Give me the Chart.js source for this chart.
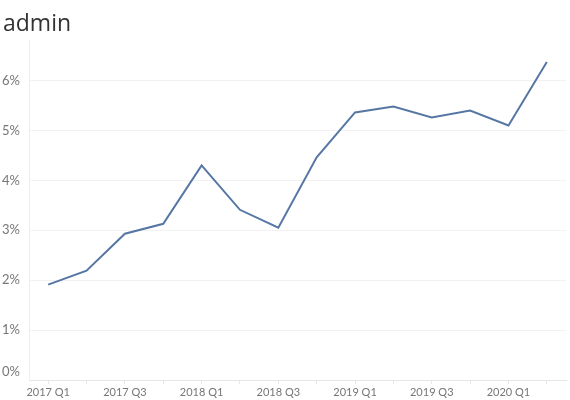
<!DOCTYPE html>
<html>
<head>
<meta charset="utf-8">
<script src="https://cdn.jsdelivr.net/npm/chart.js@4"></script>
<style>
html, body { margin: 0; padding: 0; background: #fff; }
#wrap { width: 570px; height: 400px; position: relative; }
</style>
</head>
<body>
<div id="wrap"><canvas id="chart"></canvas></div>
<script>
const quarters = ["2017 Q1", "2017 Q2", "2017 Q3", "2017 Q4",
                  "2018 Q1", "2018 Q2", "2018 Q3", "2018 Q4",
                  "2019 Q1", "2019 Q2", "2019 Q3", "2019 Q4",
                  "2020 Q1", "2020 Q2"]
const adminShare = [1.91, 2.19, 2.93, 3.13, 4.30, 3.41, 3.05, 4.46, 5.36, 5.48, 5.26, 5.40, 5.10, 6.37]
const yTicks = [0, 1, 2, 3, 4, 5, 6]

const fontFamily = "Lato, 'Open Sans', sans-serif"

// y labels drawn by hand so the 0% one can sit above the axis line like the original
const yLabels = {
    id: "yLabels",
    afterDraw(chart){
        const ctx = chart.ctx
        const y = chart.scales.y
        ctx.save()
        ctx.font = "13px " + fontFamily
        ctx.fillStyle = "#777"
        ctx.textAlign = "right"
        ctx.textBaseline = "middle"
        for(const v of yTicks){
            let py = y.getPixelForValue(v)
            if(v == 0) py -= 8
            ctx.fillText(v + "%", 20, py)
        }
        ctx.restore()
    }
}

new Chart(document.getElementById("chart"), {
    type: "line",
    data: {
        labels: quarters,
        datasets: [{
            label: "admin",
            data: adminShare,
            borderColor: "#5677a4",
            borderWidth: 2,
            pointRadius: 0,
            tension: 0,
            fill: false
        }]
    },
    options: {
        responsive: true,
        maintainAspectRatio: false,
        animation: false,
        layout: { padding: { left: 3, right: 4, top: 0, bottom: 0 } },
        plugins: {
            legend: { display: false },
            tooltip: { enabled: false },
            title: {
                display: true,
                text: "admin",
                align: "start",
                color: "#333",
                font: { family: "'Open Sans', sans-serif", size: 23, weight: "normal" },
                padding: { top: 11, bottom: 2 }
            }
        },
        scales: {
            x: {
                offset: true,
                grid: {
                    drawOnChartArea: false,
                    drawTicks: true,
                    tickLength: 4,
                    color: "#e6e6e6"
                },
                border: { color: "#e6e6e6" },
                ticks: {
                    autoSkip: false,
                    maxRotation: 0,
                    padding: 2,
                    color: "#777",
                    font: { family: fontFamily, size: 11 },
                    callback: function(val, i){ return i % 2 == 0 ? quarters[i] : "" }
                },
                afterFit(scale){ scale.height = 20 }
            },
            y: {
                min: 0,
                max: 6.8,
                grid: {
                    drawTicks: false,
                    color: ctx => (ctx.tick && Number.isInteger(ctx.tick.value)) ? "#f2f2f2" : "rgba(0,0,0,0)"
                },
                border: { color: "#eeeeee" },
                ticks: {
                    stepSize: 1,
                    display: false
                },
                afterFit(scale){ scale.width = 26 }
            }
        }
    },
    plugins: [yLabels]
})
</script>
</body>
</html>
